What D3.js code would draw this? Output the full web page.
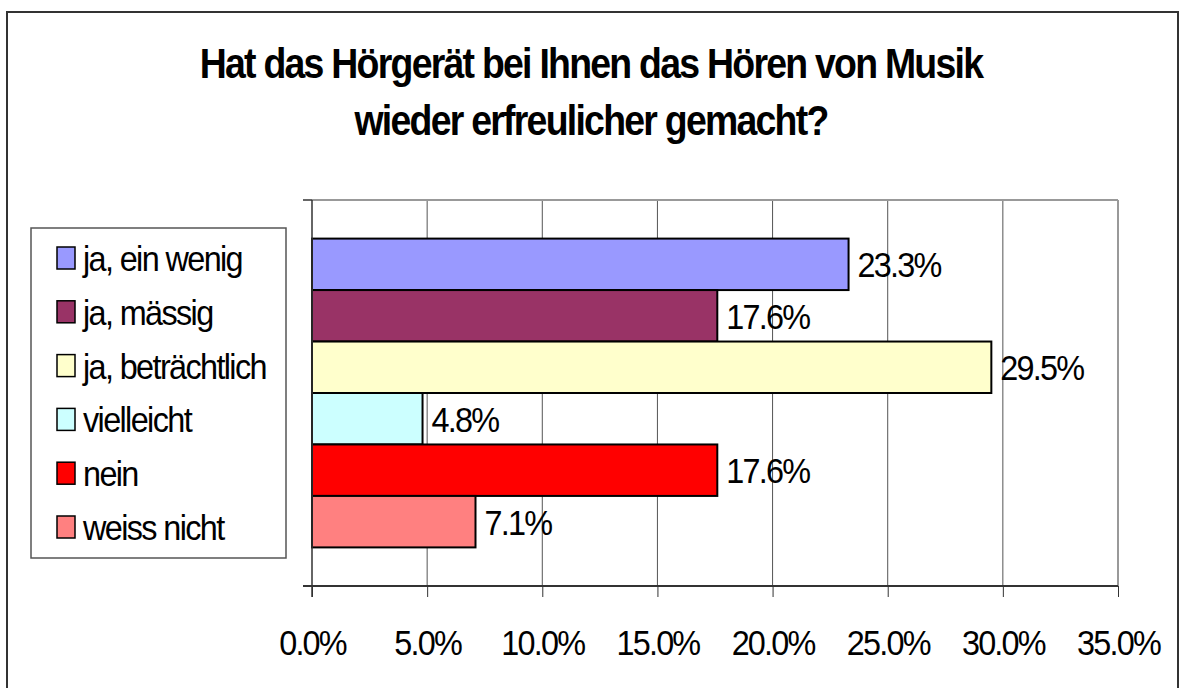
<!DOCTYPE html>
<html lang="de">

<head>
    <meta charset="UTF-8">
    <title>Hörgerät Musik</title>
    <script src="https://d3js.org/d3.v7.min.js"></script>
    <style>
        body { margin: 0; background: #fff; }
        text { font-family: Arial, "Liberation Sans", sans-serif; fill: #000; }
    </style>
</head>

<body>
    <script>
        var width = 1181, height = 688;

        // data
        var categories = ["ja, ein wenig", "ja, mässig", "ja, beträchtlich", "vielleicht", "nein", "weiss nicht"];
        var values = [23.3, 17.6, 29.5, 4.8, 17.6, 7.1];
        var colors = ["#9999FF", "#993366", "#FFFFCC", "#CCFFFF", "#FF0000", "#FF8080"];
        var tickValues = [0, 5, 10, 15, 20, 25, 30, 35];
        var titleLines = ["Hat das Hörgerät bei Ihnen das Hören von Musik", "wieder erfreulicher gemacht?"];

        // the original font is a bit squeezed and tightly spaced
        var squeeze = 0.9;

        var svg = d3.select('body').append('svg').attr('width', width).attr('height', height);

        // outer chart border
        svg.append('rect')
            .attr('x', 7).attr('y', 12)
            .attr('width', 1171).attr('height', 690)
            .attr('fill', 'none').attr('stroke', '#333').attr('stroke-width', 2);

        // title
        svg.selectAll('.title').data(titleLines)
            .join('text')
            .attr('class', 'title')
            .attr('transform', function (d, i) { return 'translate(591,' + (78 + i * 57) + ') scale(0.87,1)'; })
            .attr('text-anchor', 'middle')
            .attr('font-size', 43)
            .attr('font-weight', 'bold')
            .attr('letter-spacing', -2)
            .text(function (d) { return d; });

        var x = d3.scaleLinear().domain([0, 35]).range([312, 1118]);
        var y = d3.scaleBand().domain(categories).range([200, 586]).paddingInner(0).paddingOuter(0.75);
        var plotTop = y.range()[0], plotBottom = y.range()[1];

        // vertical gridlines
        svg.append('g').selectAll('line').data(tickValues.slice(1))
            .join('line')
            .attr('x1', function (d) { return x(d); }).attr('x2', function (d) { return x(d); })
            .attr('y1', plotTop).attr('y2', plotBottom)
            .attr('stroke', function (d) { return d === 35 ? '#999' : '#555'; })
            .attr('stroke-width', function (d) { return d === 35 ? 2 : 1; });

        // plot area top border
        svg.append('line')
            .attr('x1', x(0)).attr('x2', x(35)).attr('y1', plotTop).attr('y2', plotTop)
            .attr('stroke', '#999').attr('stroke-width', 2);

        // bars
        svg.append('g').selectAll('rect').data(categories)
            .join('rect')
            .attr('x', x(0))
            .attr('y', function (d) { return y(d); })
            .attr('width', function (d, i) { return x(values[i]) - x(0); })
            .attr('height', y.bandwidth())
            .attr('fill', function (d, i) { return colors[i]; })
            .attr('stroke', '#000').attr('stroke-width', 2);

        // value labels
        svg.append('g').selectAll('text').data(categories)
            .join('text')
            .attr('transform', function (d, i) {
                return 'translate(' + (x(values[i]) + 9) + ',' + (y(d) + y.bandwidth() / 2 + 13) + ') scale(' + squeeze + ',1)';
            })
            .attr('font-size', 36)
            .attr('letter-spacing', -2)
            .text(function (d, i) { return values[i].toFixed(1) + '%'; });

        // x axis
        var xAxis = d3.axisBottom(x)
            .tickValues(tickValues)
            .tickSize(11)
            .tickSizeOuter(0)
            .tickFormat(function (d) { return d.toFixed(1) + '%'; });

        var gx = svg.append('g').attr('transform', 'translate(0,' + plotBottom + ')').call(xAxis);
        gx.select('.domain').remove();
        gx.selectAll('.tick line').attr('stroke', '#333');
        gx.selectAll('.tick text')
            .attr('dy', null)
            .attr('y', 69)
            .attr('font-size', 36)
            .attr('letter-spacing', -2)
            .attr('font-family', 'Arial, "Liberation Sans", sans-serif')
            .attr('transform', 'scale(' + squeeze + ',1)');

        // axis lines
        svg.append('line')
            .attr('x1', 303).attr('x2', x(35)).attr('y1', plotBottom).attr('y2', plotBottom)
            .attr('stroke', '#333').attr('stroke-width', 2);
        svg.append('line')
            .attr('x1', x(0)).attr('x2', x(0)).attr('y1', plotTop).attr('y2', plotBottom + 11)
            .attr('stroke', '#333').attr('stroke-width', 1.5);
        svg.append('line')
            .attr('x1', 303).attr('x2', x(0)).attr('y1', plotTop).attr('y2', plotTop)
            .attr('stroke', '#333').attr('stroke-width', 1.5);

        // legend
        var legend = svg.append('g');
        legend.append('rect')
            .attr('x', 31).attr('y', 228).attr('width', 255).attr('height', 330)
            .attr('fill', '#fff').attr('stroke', '#555').attr('stroke-width', 1.5);

        var items = legend.selectAll('.item').data(categories)
            .join('g')
            .attr('class', 'item')
            .attr('transform', function (d, i) { return 'translate(0,' + (258 + i * 53.8) + ')'; });

        items.append('rect')
            .attr('x', 57).attr('y', -11).attr('width', 18).attr('height', 22)
            .attr('fill', function (d, i) { return colors[i]; })
            .attr('stroke', '#000').attr('stroke-width', 1.5);

        items.append('text')
            .attr('transform', 'translate(83,13) scale(' + squeeze + ',1)')
            .attr('font-size', 36)
            .attr('letter-spacing', -1.8)
            .text(function (d) { return d; });
    </script>
</body>

</html>
